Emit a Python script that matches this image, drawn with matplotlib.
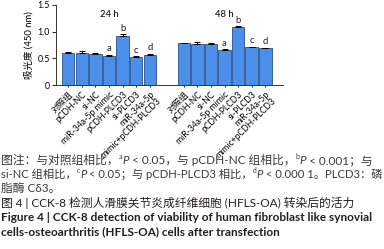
import numpy as np
import matplotlib
matplotlib.use('Agg')
import matplotlib.pyplot as plt

plt.rcParams['font.family'] = ['Lato', 'Noto Sans CJK SC', 'DejaVu Sans']

# data
groups = ['24 h', '48 h']
labels = ['对照组', 'pCDH-NC', 'si-NC', 'miR-34a-5p mimic', 'pCDH-PLCD3',
          'si-PLCD3', 'miR-34a-5p\nmimic+pCDH-PLCD3']
vals_24 = [0.60, 0.60, 0.59, 0.55, 0.92, 0.52, 0.57]
err_24 = [0.01, 0.04, 0.01, 0.015, 0.03, 0.02, 0.01]
vals_48 = [0.78, 0.77, 0.77, 0.66, 1.09, 0.71, 0.69]
err_48 = [0.01, 0.04, 0.02, 0.01, 0.01, 0.01, 0.01]
marks = ['', '', '', 'a', 'b', 'c', 'd']

W, H = 384, 249
fig = plt.figure(figsize=(W / 100, H / 100), dpi=100)
ax = fig.add_axes([56 / W, 1 - 85 / H, (283 - 56) / W, 80 / H])

bar_col = '#4a8fea'
edge_col = '#2b4f86'
gap = 8.5
pos = []
for g, (vals, errs) in enumerate([(vals_24, err_24), (vals_48, err_48)]):
    x = np.arange(len(vals)) + g * gap
    pos.extend(x)
    ax.bar(x, vals, width=0.92, color=bar_col, edgecolor=edge_col, linewidth=0.6)
    ax.errorbar(x, vals, yerr=[np.zeros(len(errs)), errs], fmt='none',
                ecolor='black', elinewidth=0.7, capsize=2, capthick=0.7)
    for xi, v, e, m in zip(x, vals, errs, marks):
        if m:
            ax.text(xi, v + e + 0.03, m, ha='center', va='bottom', fontsize=6.8,
                    color='#222222')
    ax.text(x.mean(), 1.33, groups[g], ha='center', va='center', fontsize=6.8,
            color='#222222', weight='semibold')

ax.set_xlim(-0.9, 15.8)
ax.set_ylim(0, 1.5)
ax.set_yticks([0, 0.5, 1.0, 1.5])
ax.set_yticklabels(['0', '0.5', '1.0', '1.5'])
ax.set_xticks(pos)
ax.set_xticklabels(labels * 2, rotation=45, ha='right', va='top',
                   rotation_mode='anchor', fontsize=6.2, linespacing=0.95,
                   multialignment='right')
ax.tick_params(axis='y', labelsize=6.3, length=3, width=0.6, pad=1.5)
ax.tick_params(axis='x', length=1.5, width=0.6, pad=2)
for s in ['top', 'right']:
    ax.spines[s].set_visible(False)
for s in ['left', 'bottom']:
    ax.spines[s].set_linewidth(0.7)
    ax.spines[s].set_color('#333333')
ax.set_ylabel('吸光度 (450 nm)', fontsize=6.8, labelpad=3)

# caption, drawn run by run so superscripts / italics can be mixed in
renderer = fig.canvas.get_renderer()


def draw_runs(x, y, runs, size, color, weight='normal', max_w=None):
    x0 = x
    texts = []
    for txt, kind in runs:
        kw = dict(fontsize=size, color=color, weight=weight, va='baseline')
        yy = y
        if kind == 'sup':
            kw['fontsize'] = size * 0.6
            yy = y + size * 0.45 / 72 * 100 / H
        elif kind == 'it':
            kw['style'] = 'italic'
        t = fig.text(x, yy, txt, **kw)
        texts.append(t)
        x += t.get_window_extent(renderer).width / W
    # shrink a line that runs past the page width
    if max_w is not None and (x - x0) * W > max_w:
        for t in texts:
            t.remove()
        draw_runs(x0, y, runs, size * max_w / ((x - x0) * W), color, weight)


note_col = '#3a3a3a'
title_col = '#231f20'
fs = 8.5
draw_runs(0.003, 1 - 164 / H,
          [('图注：与对照组相比，', ''), ('a', 'sup'), ('P', 'it'),
           (' < 0.05，与 pCDH-NC 组相比，', ''), ('b', 'sup'), ('P', 'it'),
           (' < 0.001；与', '')], fs, note_col, max_w=381)
draw_runs(0.003, 1 - 178 / H,
          [('si-NC 组相比，', ''), ('c', 'sup'), ('P', 'it'),
           (' < 0.05；与 pCDH-PLCD3 相比，', ''), ('d', 'sup'), ('P', 'it'),
           (' < 0.000 1。PLCD3：磷', '')], fs, note_col, max_w=381)
draw_runs(0.003, 1 - 192 / H, [('脂酶 Cδ3。', '')], fs, note_col)
draw_runs(0.003, 1 - 207 / H,
          [('图 4 | CCK-8 检测人滑膜关节炎成纤维细胞 (HFLS-OA) 转染后的活力', '')],
          fs, title_col, max_w=381)
draw_runs(0.003, 1 - 221 / H,
          [('Figure 4 | CCK-8 detection of viability of human fibroblast like synovial', '')],
          fs, title_col, 'bold', max_w=381)
draw_runs(0.003, 1 - 235 / H,
          [('cells-osteoarthritis (HFLS-OA) cells after transfection', '')],
          fs, title_col, 'bold')

fig.savefig('out.png', dpi=100)
